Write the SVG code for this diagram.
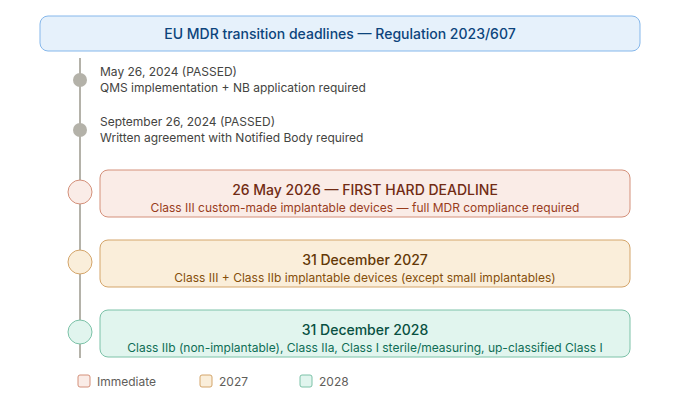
<svg xmlns="http://www.w3.org/2000/svg" width="680" height="400" viewBox="0 0 680 400">
<style>
text{font-family:"Inter","Liberation Sans",sans-serif}
.t{font-size:14px;font-weight:500;text-anchor:middle}
.s{font-size:12px;text-anchor:middle}
.p{font-size:12px;fill:#444441}
.lg{font-size:12px;fill:#5F5E5A}
.red{fill:#FAECE7;stroke:#D4907A;stroke-width:1}
.amb{fill:#FAEEDA;stroke:#D4A56A;stroke-width:1}
.grn{fill:#E1F5EE;stroke:#7CC2A8;stroke-width:1}
</style>
<rect width="680" height="400" fill="#ffffff"/>
<g id="title">
<rect x="40" y="16" width="600" height="35" rx="8" fill="#E6F1FB" stroke="#85B7EB"/>
<text class="t" x="340" y="38.500" fill="#0C447C">EU MDR transition deadlines — Regulation 2023/607</text>
</g>
<g id="connectors">
<line x1="80" y1="58" x2="80" y2="358" stroke="#B4B2A9" stroke-width="2"/>
</g>
<g id="m1">
<circle cx="80" cy="80" r="7" fill="#B4B2A9"/>
<text class="p" x="100" y="76">May 26, 2024 (PASSED)</text>
<text class="p" x="100" y="92">QMS implementation + NB application required</text>
</g>
<g id="m2">
<circle cx="80" cy="130" r="7" fill="#B4B2A9"/>
<text class="p" x="100" y="126">September 26, 2024 (PASSED)</text>
<text class="p" x="100" y="142">Written agreement with Notified Body required</text>
</g>
<g id="d2026">
<circle class="red" cx="80" cy="192" r="12"/>
<rect class="red" x="100" y="170" width="530" height="47" rx="8"/>
<text class="t" x="365" y="195" fill="#712B13">26 May 2026 — FIRST HARD DEADLINE</text>
<text class="s" x="365" y="212" fill="#993C1D">Class III custom-made implantable devices — full MDR compliance required</text>
</g>
<g id="d2027">
<circle class="amb" cx="80" cy="262" r="12"/>
<rect class="amb" x="100" y="240" width="530" height="47" rx="8"/>
<text class="t" x="365" y="265" fill="#633806">31 December 2027</text>
<text class="s" x="365" y="282" fill="#854F0B">Class III + Class IIb implantable devices (except small implantables)</text>
</g>
<g id="d2028">
<circle class="grn" cx="80" cy="332" r="12"/>
<rect class="grn" x="100" y="310" width="530" height="47" rx="8"/>
<text class="t" x="365" y="335" fill="#085041">31 December 2028</text>
<text class="s" x="365" y="352" fill="#0F6E56">Class IIb (non-implantable), Class IIa, Class I sterile/measuring, up-classified Class I</text>
</g>
<g id="legend">
<rect class="red" x="78" y="375" width="12" height="12" rx="2"/>
<text class="lg" x="97" y="385.500">Immediate</text>
<rect class="amb" x="200" y="375" width="12" height="12" rx="2"/>
<text class="lg" x="219" y="385.500">2027</text>
<rect class="grn" x="300" y="375" width="12" height="12" rx="2"/>
<text class="lg" x="319" y="385.500">2028</text>
</g>
</svg>
